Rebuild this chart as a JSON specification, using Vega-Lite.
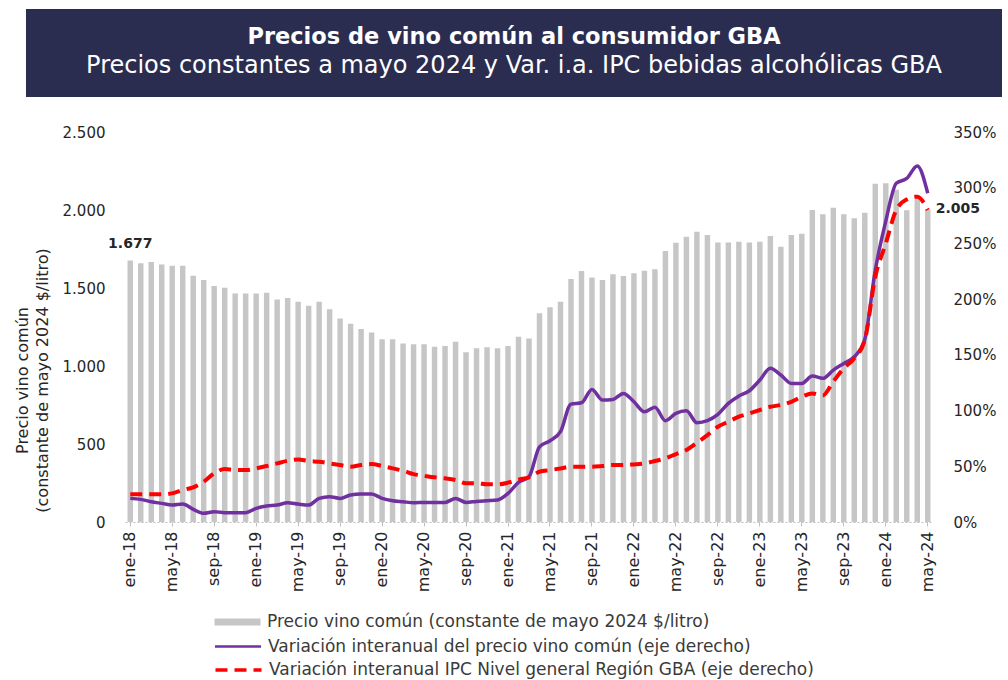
{
  "$schema": "https://vega.github.io/schema/vega-lite/v6.json",
  "padding": {"left": 14, "top": 9, "right": 6, "bottom": 2},
  "background": "white",
  "config": {
    "locale": {"number": {"decimal": ",", "thousands": ".", "grouping": [3], "currency": ["$", ""]}},
    "view": {"stroke": null},
    "axis": {"labelFont": "DejaVu Sans", "titleFont": "DejaVu Sans", "grid": false},
    "legend": {"labelFont": "DejaVu Sans", "labelFontSize": 17, "labelColor": "#3a3a3a", "labelLimit": 800, "symbolSize": 529, "symbolOffset": 12, "labelOffset": 17, "title": null}
  },
  "datasets": {
    "meses": [
      {"mes": "ene-18", "precio": 1677, "vp": 21.2, "vi": 24.8},
      {"mes": "feb-18", "precio": 1658, "vp": 20.3, "vi": 24.8},
      {"mes": "mar-18", "precio": 1667, "vp": 18.2, "vi": 24.8},
      {"mes": "abr-18", "precio": 1650, "vp": 16.7, "vi": 24.8},
      {"mes": "may-18", "precio": 1643, "vp": 15.2, "vi": 25.7},
      {"mes": "jun-18", "precio": 1643, "vp": 16.1, "vi": 28.7},
      {"mes": "jul-18", "precio": 1579, "vp": 11.4, "vi": 31.1},
      {"mes": "ago-18", "precio": 1551, "vp": 7.8, "vi": 36.2},
      {"mes": "sep-18", "precio": 1513, "vp": 9.3, "vi": 43.7},
      {"mes": "oct-18", "precio": 1502, "vp": 8.4, "vi": 47.5},
      {"mes": "nov-18", "precio": 1464, "vp": 8.4, "vi": 46.6},
      {"mes": "dic-18", "precio": 1464, "vp": 8.4, "vi": 46.6},
      {"mes": "ene-19", "precio": 1464, "vp": 12.3, "vi": 48.1},
      {"mes": "feb-19", "precio": 1470, "vp": 14.4, "vi": 50.2},
      {"mes": "mar-19", "precio": 1427, "vp": 15.2, "vi": 52.6},
      {"mes": "abr-19", "precio": 1436, "vp": 17.3, "vi": 55},
      {"mes": "may-19", "precio": 1412, "vp": 16.1, "vi": 56.2},
      {"mes": "jun-19", "precio": 1387, "vp": 15.2, "vi": 54.7},
      {"mes": "jul-19", "precio": 1412, "vp": 21.2, "vi": 54.1},
      {"mes": "ago-19", "precio": 1363, "vp": 22.7, "vi": 52.6},
      {"mes": "sep-19", "precio": 1305, "vp": 21.2, "vi": 51.1},
      {"mes": "oct-19", "precio": 1271, "vp": 24.2, "vi": 49.6},
      {"mes": "nov-19", "precio": 1237, "vp": 25.1, "vi": 51.1},
      {"mes": "dic-19", "precio": 1214, "vp": 25.1, "vi": 52},
      {"mes": "ene-20", "precio": 1171, "vp": 21.2, "vi": 50.2},
      {"mes": "feb-20", "precio": 1171, "vp": 19.1, "vi": 48.1},
      {"mes": "mar-20", "precio": 1145, "vp": 18.2, "vi": 46},
      {"mes": "abr-20", "precio": 1139, "vp": 17.3, "vi": 43},
      {"mes": "may-20", "precio": 1140, "vp": 17.6, "vi": 41.5},
      {"mes": "jun-20", "precio": 1124, "vp": 17.6, "vi": 40.1},
      {"mes": "jul-20", "precio": 1128, "vp": 17.6, "vi": 39.2},
      {"mes": "ago-20", "precio": 1156, "vp": 21.2, "vi": 37.7},
      {"mes": "sep-20", "precio": 1088, "vp": 17.6, "vi": 34.7},
      {"mes": "oct-20", "precio": 1113, "vp": 18.5, "vi": 34.7},
      {"mes": "nov-20", "precio": 1120, "vp": 19.1, "vi": 33.8},
      {"mes": "dic-20", "precio": 1113, "vp": 19.7, "vi": 33.8},
      {"mes": "ene-21", "precio": 1128, "vp": 25.7, "vi": 35.3},
      {"mes": "feb-21", "precio": 1188, "vp": 35.5, "vi": 38},
      {"mes": "mar-21", "precio": 1177, "vp": 40.6, "vi": 40.1},
      {"mes": "abr-21", "precio": 1338, "vp": 67.5, "vi": 45.1},
      {"mes": "may-21", "precio": 1376, "vp": 72.9, "vi": 46.6},
      {"mes": "jun-21", "precio": 1412, "vp": 81, "vi": 48.1},
      {"mes": "jul-21", "precio": 1558, "vp": 105.8, "vi": 49.6},
      {"mes": "ago-21", "precio": 1609, "vp": 107, "vi": 49.6},
      {"mes": "sep-21", "precio": 1568, "vp": 119, "vi": 49.6},
      {"mes": "oct-21", "precio": 1551, "vp": 109.4, "vi": 50.2},
      {"mes": "nov-21", "precio": 1588, "vp": 110, "vi": 51.1},
      {"mes": "dic-21", "precio": 1577, "vp": 115.4, "vi": 51.1},
      {"mes": "ene-22", "precio": 1594, "vp": 107.9, "vi": 51.7},
      {"mes": "feb-22", "precio": 1611, "vp": 98.9, "vi": 52.6},
      {"mes": "mar-22", "precio": 1620, "vp": 102.9, "vi": 54.7},
      {"mes": "abr-22", "precio": 1737, "vp": 90.9, "vi": 57.1},
      {"mes": "may-22", "precio": 1790, "vp": 97.5, "vi": 61},
      {"mes": "jun-22", "precio": 1829, "vp": 99.8, "vi": 64.6},
      {"mes": "jul-22", "precio": 1861, "vp": 89.1, "vi": 71.1},
      {"mes": "ago-22", "precio": 1840, "vp": 90.9, "vi": 78},
      {"mes": "sep-22", "precio": 1791, "vp": 96.5, "vi": 85.5},
      {"mes": "oct-22", "precio": 1791, "vp": 106.5, "vi": 90},
      {"mes": "nov-22", "precio": 1797, "vp": 113, "vi": 94.5},
      {"mes": "dic-22", "precio": 1791, "vp": 117.8, "vi": 97.5},
      {"mes": "ene-23", "precio": 1797, "vp": 127.4, "vi": 100.5},
      {"mes": "feb-23", "precio": 1833, "vp": 137.9, "vi": 103.4},
      {"mes": "mar-23", "precio": 1765, "vp": 131.9, "vi": 105},
      {"mes": "abr-23", "precio": 1840, "vp": 124.4, "vi": 107.9},
      {"mes": "may-23", "precio": 1848, "vp": 124.4, "vi": 112.4},
      {"mes": "jun-23", "precio": 2000, "vp": 131, "vi": 115.4},
      {"mes": "jul-23", "precio": 1973, "vp": 128.9, "vi": 113.5},
      {"mes": "ago-23", "precio": 2015, "vp": 136.3, "vi": 126},
      {"mes": "sep-23", "precio": 1972, "vp": 142.3, "vi": 138},
      {"mes": "oct-23", "precio": 1947, "vp": 148.3, "vi": 147},
      {"mes": "nov-23", "precio": 1983, "vp": 164, "vi": 163.3},
      {"mes": "dic-23", "precio": 2168, "vp": 226, "vi": 220},
      {"mes": "ene-24", "precio": 2171, "vp": 270, "vi": 250},
      {"mes": "feb-24", "precio": 2130, "vp": 304, "vi": 280},
      {"mes": "mar-24", "precio": 1998, "vp": 308.3, "vi": 289.5},
      {"mes": "abr-24", "precio": 2088, "vp": 319.5, "vi": 292},
      {"mes": "may-24", "precio": 2005, "vp": 295, "vi": 280}
    ]
  },
  "concat": [
    {
      "width": 877,
      "height": 88,
      "data": {"values": [
        {"linea": "1", "texto": "Precios de vino común al consumidor GBA"},
        {"linea": "2", "texto": "Precios constantes a mayo 2024 y Var. i.a. IPC bebidas alcohólicas GBA"}
      ]},
      "layer": [
        {
          "transform": [{"filter": "datum.linea == '1'"}],
          "mark": {"type": "rect", "color": "#2a2d50"},
          "encoding": {
            "x": {"datum": -0.1129, "type": "quantitative", "scale": {"domain": [0, 1], "nice": false, "zero": false}, "axis": null},
            "x2": {"datum": 1},
            "y": {"datum": 0, "type": "quantitative", "scale": {"domain": [0, 1], "nice": false}, "axis": null},
            "y2": {"datum": 1}
          }
        },
        {
          "transform": [{"filter": "datum.linea == '1'"}],
          "mark": {"type": "text", "font": "DejaVu Sans", "fontWeight": "bold", "fontSize": 22.5, "color": "white"},
          "encoding": {
            "x": {"datum": 0.4436, "type": "quantitative"},
            "y": {"datum": 0.682, "type": "quantitative"},
            "text": {"field": "texto"}
          }
        },
        {
          "transform": [{"filter": "datum.linea == '2'"}],
          "mark": {"type": "text", "font": "DejaVu Sans", "fontSize": 24, "color": "white"},
          "encoding": {
            "x": {"datum": 0.4436, "type": "quantitative"},
            "y": {"datum": 0.352, "type": "quantitative"},
            "text": {"field": "texto"}
          }
        }
      ]
    },
    {
      "width": 808,
      "height": 390,
      "data": {"name": "meses"},
      "encoding": {
        "x": {
          "field": "mes", "type": "ordinal", "sort": null,
          "scale": {"paddingInner": 0.48, "paddingOuter": 0.24},
          "axis": {
            "title": null,
            "values": ["ene-18", "may-18", "sep-18", "ene-19", "may-19", "sep-19", "ene-20", "may-20", "sep-20", "ene-21", "may-21", "sep-21", "ene-22", "may-22", "sep-22", "ene-23", "may-23", "sep-23", "ene-24", "may-24"],
            "labelAngle": -90, "labelFontSize": 16, "labelColor": "#262626", "labelPadding": 5,
            "tickSize": 4, "tickColor": "#bfbfbf", "domainColor": "#bfbfbf", "domainDash": [2, 2]
          }
        }
      },
      "layer": [
        {
          "layer": [
            {
              "mark": {"type": "bar"},
              "encoding": {
                "y": {
                  "field": "precio", "type": "quantitative",
                  "scale": {"domain": [0, 2500], "nice": false},
                  "axis": {
                    "values": [0, 500, 1000, 1500, 2000, 2500], "format": ",d",
                    "ticks": false, "domain": false, "labelPadding": 20,
                    "labelFontSize": 15, "labelColor": "#262626",
                    "title": ["Precio vino común", "(constante de mayo 2024 $/litro)"],
                    "titleFontSize": 16, "titleFontWeight": "normal", "titleColor": "#262626",
                    "titleLineHeight": 20, "titlePadding": 12, "titleY": 248
                  }
                },
                "fill": {
                  "datum": "Precio vino común (constante de mayo 2024 $/litro)",
                  "scale": {"range": ["#c6c6c6"]},
                  "legend": {"orient": "none", "legendX": 88, "legendY": 600.5, "symbolType": "M-2,-0.3H2V0.3H-2Z"}
                }
              }
            },
            {
              "transform": [{"filter": "datum.mes == 'ene-18'"}],
              "mark": {"type": "text", "font": "DejaVu Sans", "fontWeight": "bold", "fontSize": 14, "color": "#262626", "baseline": "bottom", "dy": -9},
              "encoding": {
                "y": {"field": "precio", "type": "quantitative"},
                "text": {"field": "precio", "type": "quantitative", "format": ",d"}
              }
            },
            {
              "transform": [{"filter": "datum.mes == 'may-24'"}],
              "mark": {"type": "text", "font": "DejaVu Sans", "fontWeight": "bold", "fontSize": 14, "color": "#262626", "align": "left", "baseline": "middle", "dx": 8},
              "encoding": {
                "y": {"field": "precio", "type": "quantitative"},
                "text": {"field": "precio", "type": "quantitative", "format": ",d"}
              }
            }
          ]
        },
        {
          "layer": [
            {
              "mark": {"type": "line", "strokeWidth": 3.5, "interpolate": "monotone"},
              "encoding": {
                "y": {
                  "field": "vp", "type": "quantitative", "scale": {"domain": [0, 350], "nice": false},
                  "axis": {"orient": "right", "values": [0, 50, 100, 150, 200, 250, 300, 350], "labelExpr": "datum.value + '%'", "ticks": false, "domain": false, "labelPadding": 20, "labelFontSize": 15, "labelColor": "#262626", "title": null}
                },
                "stroke": {
                  "datum": "Variación interanual del precio vino común (eje derecho)",
                  "scale": {"range": ["#7030a0"]},
                  "legend": {"orient": "none", "legendX": 88, "legendY": 624.5, "symbolType": "M-2,0H2", "symbolStrokeWidth": 2.5}
                }
              }
            },
            {
              "mark": {"type": "line", "color": "#ff0000", "strokeWidth": 4, "interpolate": "monotone"},
              "encoding": {
                "y": {
                  "field": "vi", "type": "quantitative", "scale": {"domain": [0, 350], "nice": false},
                  "axis": {"orient": "right", "values": [0, 50, 100, 150, 200, 250, 300, 350], "labelExpr": "datum.value + '%'", "ticks": false, "domain": false, "labelPadding": 20, "labelFontSize": 15, "labelColor": "#262626", "title": null}
                },
                "strokeDash": {
                  "datum": "Variación interanual IPC Nivel general Región GBA (eje derecho)",
                  "scale": {"range": [[12, 7]]},
                  "legend": {"orient": "none", "legendX": 88, "legendY": 647.5, "symbolType": "M-2,0H2", "symbolStrokeWidth": 3.5, "symbolStrokeColor": "#ff0000"}
                }
              }
            }
          ]
        }
      ],
      "resolve": {"scale": {"y": "independent"}}
    }
  ],
  "columns": 1,
  "align": "none",
  "spacing": 28
}
